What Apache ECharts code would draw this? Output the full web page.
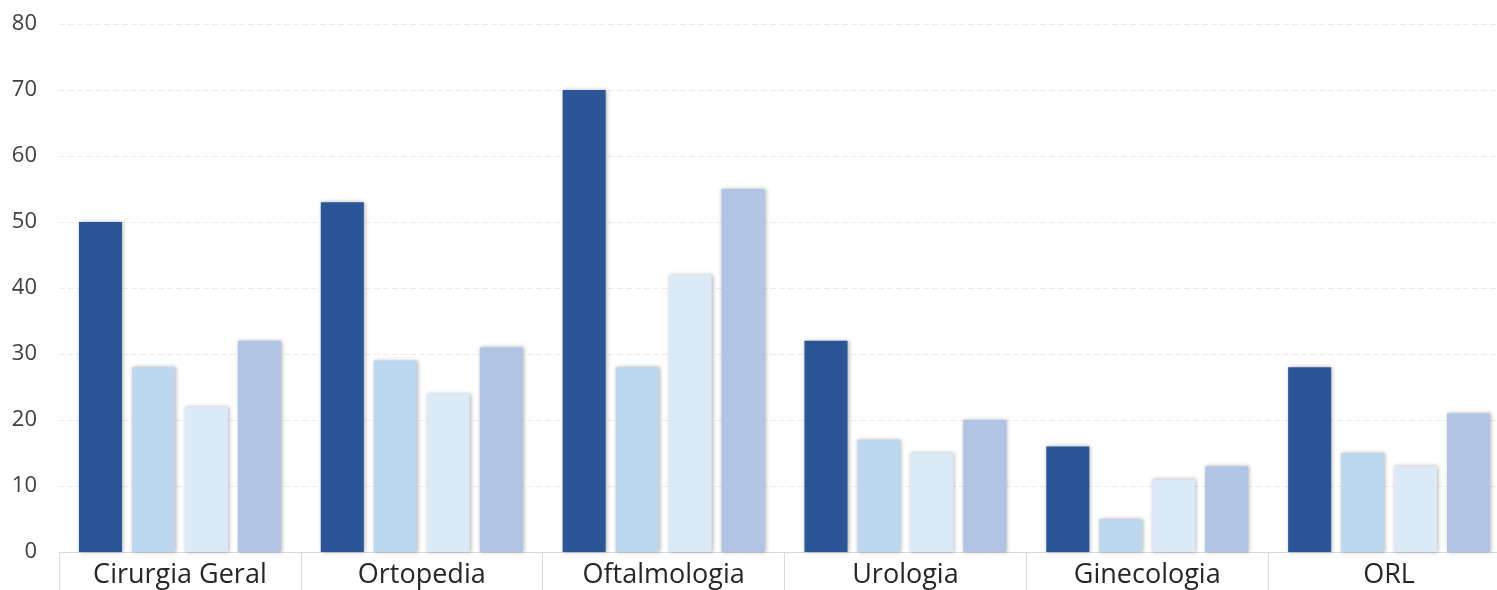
<!DOCTYPE html>
<html>
<head>
<meta charset="utf-8">
<script src="https://cdn.jsdelivr.net/npm/echarts@6/dist/echarts.min.js"></script>
<style>
html,body{margin:0;padding:0;background:#fff;}
#c{width:1497px;height:590px;}
</style>
</head>
<body>
<div id="c"></div>
<script>
const categories = ['Cirurgia Geral', 'Ortopedia', 'Oftalmologia', 'Urologia', 'Ginecologia', 'ORL'];
const series1 = [50, 53, 70, 32, 16, 28];
const series2 = [28, 29, 28, 17, 5, 15];
const series3 = [22, 24, 42, 15, 11, 13];
const series4 = [32, 31, 55, 20, 13, 21];
const yTicks = [0, 10, 20, 30, 40, 50, 60, 70, 80];

const colors = ['#2C5597', '#BDD7EE', '#DCE9F6', '#B0C4E6'];
const chart = echarts.init(document.getElementById('c'));
function mk(data, i) {
  return {
    type: 'bar',
    data: data,
    barGap: '23%',
    barCategoryGap: '16.5%',
    itemStyle: {
      color: colors[i],
      shadowColor: 'rgba(0,0,0,0.3)',
      shadowBlur: 4,
      shadowOffsetX: 1,
      shadowOffsetY: 0
    },
    emphasis: { disabled: true }
  };
}
chart.setOption({
  animation: false,
  grid: { left: 59, top: 24, bottom: 38, width: 1451, containLabel: false, outerBoundsMode: 'none' },
  xAxis: {
    type: 'category',
    data: categories,
    axisLine: { show: true, lineStyle: { color: '#d9d9d9', width: 1 } },
    axisTick: { show: true, length: 40, lineStyle: { color: '#d9d9d9' } },
    axisLabel: { fontSize: 27, color: '#262626', margin: 10, fontFamily: 'Open Sans, Noto Sans, sans-serif' },
    splitLine: { show: false }
  },
  yAxis: {
    type: 'value',
    min: yTicks[0],
    max: yTicks[yTicks.length - 1],
    interval: 10,
    axisLine: { show: false },
    axisTick: { show: false },
    axisLabel: { fontSize: 22, color: '#404040', margin: 22, fontFamily: 'Open Sans, Noto Sans, sans-serif' },
    splitLine: { show: true, lineStyle: { color: '#ececec', type: [6, 3], width: 1 } }
  },
  series: [mk(series1, 0), mk(series2, 1), mk(series3, 2), mk(series4, 3)]
});
</script>
</body>
</html>
